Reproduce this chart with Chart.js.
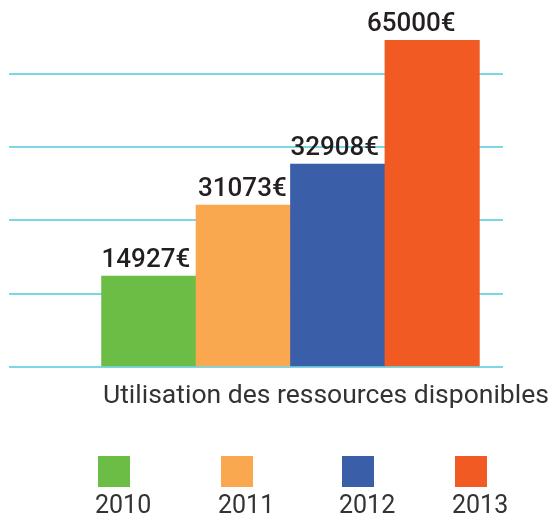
<!DOCTYPE html>
<html>
<head>
<meta charset="utf-8">
<script src="https://cdn.jsdelivr.net/npm/chart.js@4/dist/chart.umd.min.js"></script>
<style>
  html, body { margin: 0; padding: 0; background: #ffffff; }
</style>
</head>
<body>
<canvas id="ResChart" width="549" height="518"></canvas>
<script>
(function () {
  "use strict";

  // Data
  const years      = ['2010', '2011', '2012', '2013'];
  const amounts    = ['14927€', '31073€', '32908€', '65000€'];
  // bar heights as drawn, in gridline steps (the picture is not to scale)
  const barLevels  = [1.24, 2.21, 2.77, 4.46];
  const barColors  = ['#6cbd45', '#f9a84f', '#3b5ea9', '#f15a22'];
  const titleText  = 'Utilisation des ressources disponibles';

  const text_dark  = '#231f20';
  const text_gray  = '#333333';
  const grid_color = 'rgba(40, 190, 215, 0.62)';

  const labelShift = [0, 2, 0, -18];
  const legendX    = [98, 221, 342, 455];

  const barLabels = {
    id: 'barLabels',
    afterDatasetsDraw(chart) {
      const ctx = chart.ctx;
      const meta = chart.getDatasetMeta(0);
      ctx.save();
      ctx.font = '500 26px Roboto';
      ctx.fillStyle = text_dark;
      ctx.textAlign = 'left';
      ctx.textBaseline = 'alphabetic';
      meta.data.forEach((bar, i) => {
        const left = bar.x - bar.width / 2;
        ctx.fillText(amounts[i], left + labelShift[i], bar.y - 9);
      });
      ctx.restore();
    }
  };

  const titleLegend = {
    id: 'titleLegend',
    afterDraw(chart) {
      const ctx = chart.ctx;
      ctx.save();
      ctx.fillStyle = text_gray;
      ctx.font = '400 26.5px Roboto';
      ctx.textAlign = 'left';
      ctx.textBaseline = 'alphabetic';
      ctx.fillText(titleText, 103, 403);
      years.forEach((yr, i) => {
        ctx.fillStyle = barColors[i];
        ctx.fillRect(legendX[i], 456, 32, 31);
        ctx.fillStyle = text_gray;
        ctx.font = '400 25px Roboto';
        ctx.fillText(yr, legendX[i] - 3, 513);
      });
      ctx.restore();
    }
  };

  const el = document.getElementById('ResChart');
  new Chart(el.getContext('2d'), {
    type: 'bar',
    data: {
      datasets: [{
        label: 'Ressources',
        data: years.map((yr, i) => ({ x: i + 1, y: barLevels[i] })),
        backgroundColor: barColors,
        borderWidth: 0,
        barPercentage: 1,
        categoryPercentage: 1
      }]
    },
    options: {
      responsive: false,
      animation: false,
      layout: {
        padding: { left: 9, right: 46, top: 30, bottom: 151 }
      },
      scales: {
        x: {
          type: 'linear',
          display: false,
          offset: false,
          min: -0.48,
          max: 4.75,
          // one tick per year, so the bar width follows the year spacing
          afterBuildTicks: (scale) => {
            scale.ticks = years.map((yr, i) => ({ value: i + 1 }));
          }
        },
        y: {
          z: 1,
          min: 0,
          max: 4.6,
          ticks: { display: false, stepSize: 1 },
          border: { display: false },
          grid: {
            drawTicks: false,
            lineWidth: 2,
            color: (c) => Number.isInteger(c.tick.value) ? grid_color : 'rgba(0,0,0,0)'
          }
        }
      },
      plugins: {
        legend: { display: false },
        tooltip: { enabled: false }
      }
    },
    plugins: [barLabels, titleLegend]
  });
})();
</script>
</body>
</html>
